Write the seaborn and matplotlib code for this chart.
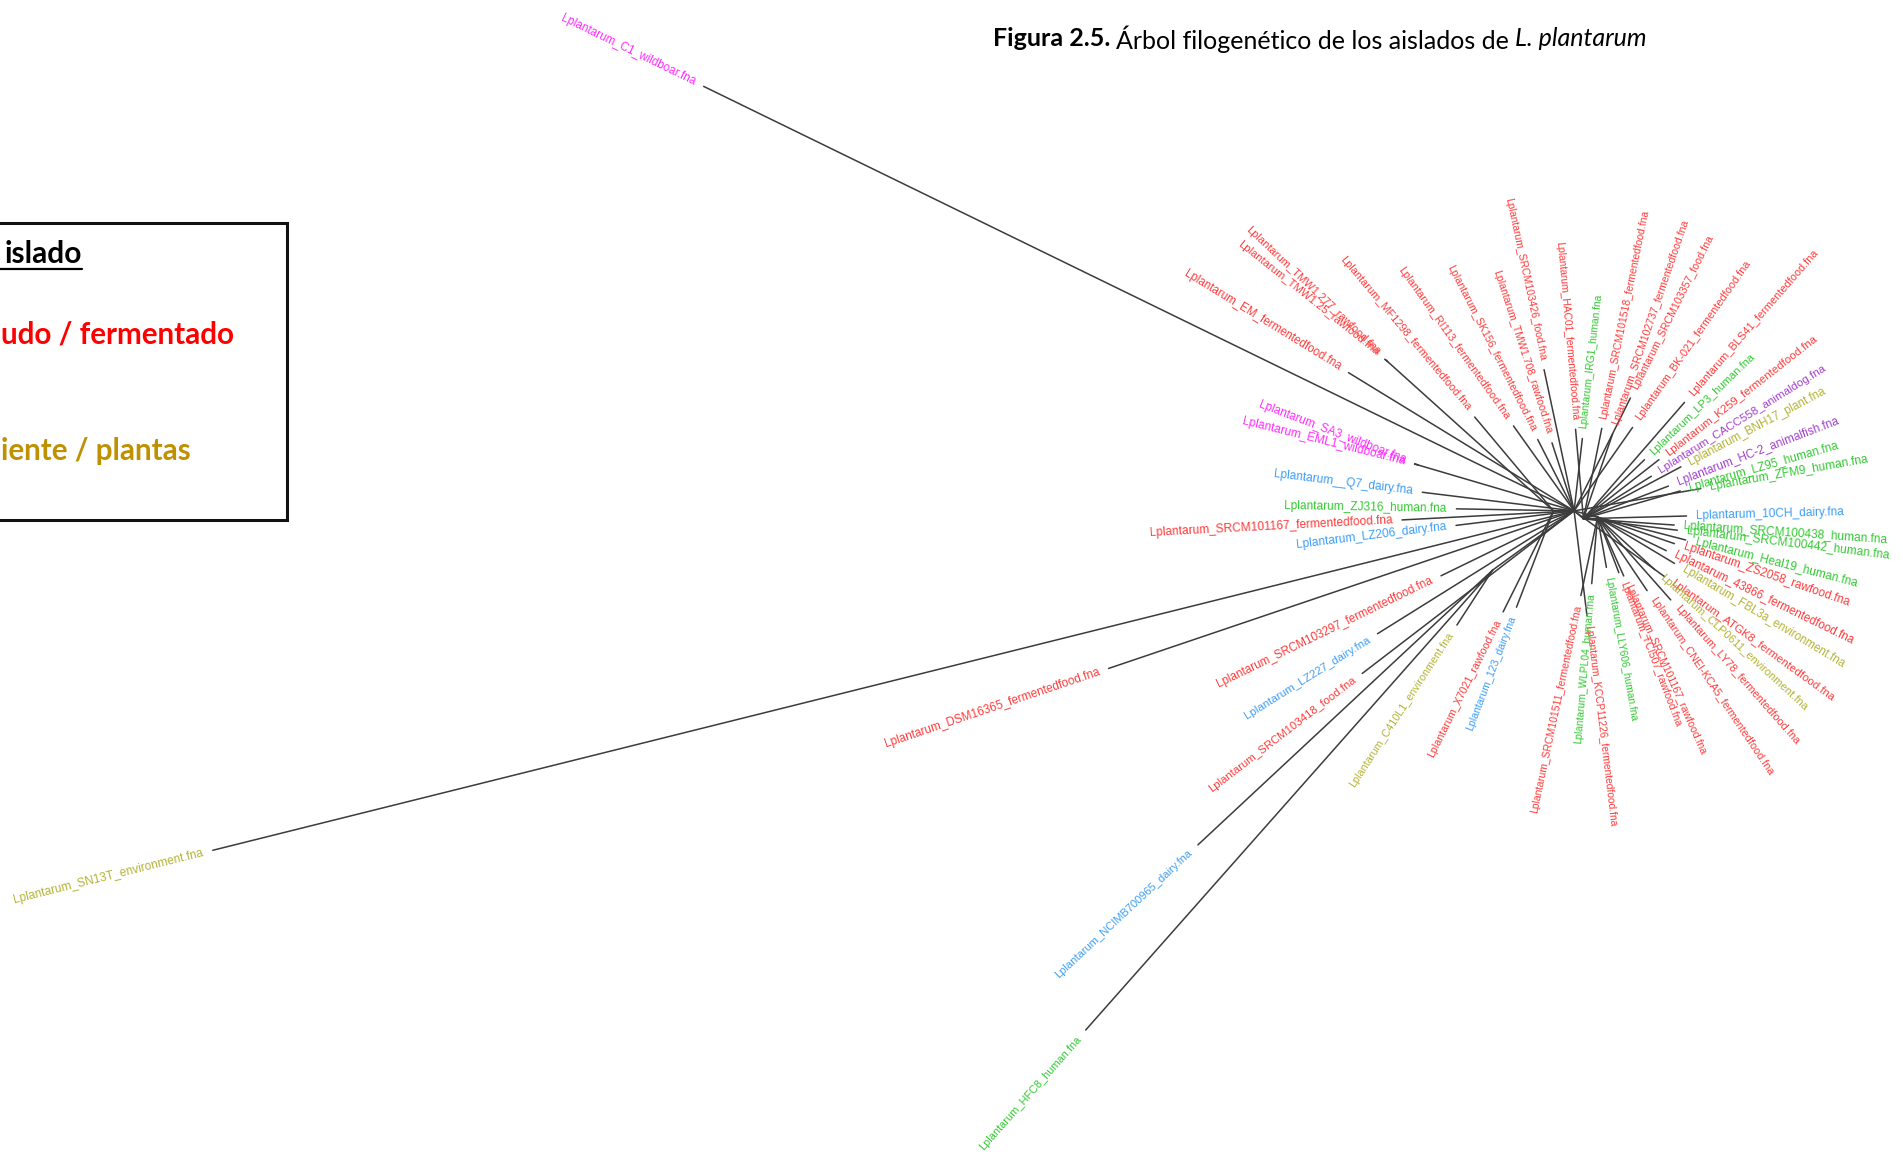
import numpy as np
import pandas as pd
import seaborn as sns
import matplotlib.pyplot as plt
from matplotlib.patches import Rectangle

sns.set_theme(style='white')
plt.rcParams['font.family'] = ['Liberation Sans', 'DejaVu Sans']

# ---- tree data (unrooted layout, angles in degrees, lengths in page units) ----
# internal nodes: node 0 is the centre of the tree
node_parent = [-1, 0, 0, 0, 0, 3, 0]
node_angle = [0, -15, -40, 180, 163.6, 138, 216]
node_len = [0, 20, 10, 17, 134, 184, 83]

tip_labels = [
    'Lplantarum_C1_wildboar.fna', 'Lplantarum_EM_fermentedfood.fna',
    'Lplantarum_TMW1.277_rawfood.fna', 'Lplantarum_TMW1.25_rawfood.fna',
    'Lplantarum_MF1298_fermentedfood.fna', 'Lplantarum_RI113_fermentedfood.fna',
    'Lplantarum_SK156_fermentedfood.fna', 'Lplantarum_TMW1.708_rawfood.fna',
    'Lplantarum_SRCM103426_food.fna', 'Lplantarum_HAC01_fermentedfood.fna',
    'Lplantarum_IRG1_human.fna', 'Lplantarum_SRCM101518_fermentedfood.fna',
    'Lplantarum_SRCM102737_fermentedfood.fna', 'Lplantarum_SRCM103357_food.fna',
    'Lplantarum_BK-021_fermentedfood.fna', 'Lplantarum_BLS41_fermentedfood.fna',
    'Lplantarum_LP3_human.fna', 'Lplantarum_K259_fermentedfood.fna',
    'Lplantarum_CACC558_animaldog.fna', 'Lplantarum_BNH17_plant.fna',
    'Lplantarum_HC-2_animalfish.fna', 'Lplantarum_LZ95_human.fna',
    'Lplantarum_ZFM9_human.fna', 'Lplantarum_10CH_dairy.fna',
    'Lplantarum_SRCM100438_human.fna', 'Lplantarum_SRCM100442_human.fna',
    'Lplantarum_Heal19_human.fna', 'Lplantarum_ZS2058_rawfood.fna',
    'Lplantarum_43866_fermentedfood.fna', 'Lplantarum_FBL3a_environment.fna',
    'Lplantarum_ATGK8_fermentedfood.fna', 'Lplantarum_CLP0611_environment.fna',
    'Lplantarum_LY78_fermentedfood.fna', 'Lplantarum_CNEI-KCA5_fermentedfood.fna',
    'Lplantarum_SRCM101167_rawfood.fna', 'Lplantarum_TCI507_rawfood.fna',
    'Lplantarum_LLY606_human.fna', 'Lplantarum_KCCP11226_fermentedfood.fna',
    'Lplantarum_WLPL04_human.fna', 'Lplantarum_SRCM101511_fermentedfood.fna',
    'Lplantarum_123_dairy.fna', 'Lplantarum_X7021_rawfood.fna',
    'Lplantarum_C410L1_environment.fna', 'Lplantarum_HFC8_human.fna',
    'Lplantarum_NCIMB700965_dairy.fna', 'Lplantarum_SRCM103418_food.fna',
    'Lplantarum_LZ227_dairy.fna', 'Lplantarum_SRCM103297_fermentedfood.fna',
    'Lplantarum_DSM16365_fermentedfood.fna', 'Lplantarum_SN13T_environment.fna',
    'Lplantarum_LZ206_dairy.fna', 'Lplantarum_SRCM101167_fermentedfood.fna',
    'Lplantarum_ZJ316_human.fna', 'Lplantarum__Q7_dairy.fna',
    'Lplantarum_SA3_wildboar.fna', 'Lplantarum_EML1_wildboar.fna',
]
tip_parent = [0, 0, 5, 5, 3, 0, 0, 0, 0, 2,
              0, 2, 2, 0, 0, 2, 2, 2, 2, 2,
              2, 2, 0, 2, 2, 2, 1, 1, 1, 1,
              0, 1, 1, 1, 1, 1, 1, 0, 1, 1,
              3, 3, 6, 6, 6, 0, 0, 0, 0, 0,
              0, 0, 0, 0, 4, 4]
tip_angle = [154, 148.5, 136.5, 141.5, 130, 125.5, 117, 108, 102, 95,
             83.5, 78.5, 71, 63.5, 55, 49, 44, 38, 32, 28,
             21, 16, 10, 1.5, -4, -7, -14.5, -19, -26, -31,
             -36, -42.5, -48.5, -56, -66, -69, -80, -83, -95, -102,
             -111, -116.5, -123, -131.5, -137, -142.5, -148, -154, -161.3, -166,
             -173, -177, 179, 173, 159, 166]
tip_len = [798, 218, 2, 3, 101, 86, 66, 59, 119, 74,
           60, 76, 74, 104, 84, 127, 70, 79, 66, 91,
           75, 83, 106, 85, 75, 78, 75, 67, 63, 74,
           92, 64, 91, 73, 53, 49, 42, 87, 55, 66,
           85, 93, 54, 506, 332, 220, 191, 122, 405, 1156,
           98, 142, 97, 126, 3, 3]

source_colors = {
    'fermentedfood': '#ff3a3a', 'rawfood': '#ff3a3a', 'food': '#ff3a3a',
    'human': '#33c933', 'dairy': '#3d9ef5', 'wildboar': '#ff2cff',
    'animaldog': '#a23fcf', 'animalfish': '#a23fcf',
    'environment': '#b3b336', 'plant': '#b3b336',
}

hub_x, hub_y = 1297, 421
gap = 8
squash = 0.86   # the original tree picture is flattened vertically

# node positions
nx, ny = [hub_x], [hub_y]
for i in range(1, len(node_parent)):
    p = node_parent[i]
    a = np.radians(node_angle[i])
    nx.append(nx[p] + node_len[i] * np.cos(a))
    ny.append(ny[p] - node_len[i] * np.sin(a))

rows = []
seg = 0
for i in range(1, len(node_parent)):
    p = node_parent[i]
    rows += [(seg, nx[p], ny[p]), (seg, nx[i], ny[i])]
    seg += 1
tips_xy = []
for p, a, L in zip(tip_parent, tip_angle, tip_len):
    r = np.radians(a)
    tx, ty = nx[p] + L * np.cos(r), ny[p] - L * np.sin(r)
    tips_xy.append((tx, ty))
    rows += [(seg, nx[p], ny[p]), (seg, tx, ty)]
    seg += 1
edges = pd.DataFrame(rows, columns=['edge', 'x', 'y'])

fig = plt.figure(figsize=(19.03, 11.65), dpi=100)
ax = fig.add_axes([0, 0, 1, 1])
sns.lineplot(data=edges, x='x', y='y', units='edge', estimator=None, sort=False,
             color='#3c3c3c', lw=1.1, ax=ax, legend=False)
ax.set_xlim(0, 1568)
ax.set_ylim(960, 0)
ax.axis('off')

for lab, (tx, ty), a in zip(tip_labels, tips_xy, tip_angle):
    r = np.radians(a)
    lx, ly = tx + gap * np.cos(r), ty - gap * np.sin(r)
    an = (a + 180) % 360 - 180
    if -90 <= an <= 90:
        ha, rot = 'left', an
    else:
        ha, rot = 'right', an - 180 if an > 0 else an + 180
    fs = 8.6 * np.sqrt(np.cos(r) ** 2 + (squash * np.sin(r)) ** 2)
    src = lab.split('_')[-1].replace('.fna', '')
    ax.text(lx, ly, lab, color=source_colors[src], fontsize=fs, ha=ha, va='center',
            rotation=rot, rotation_mode='anchor')

# legend box (cut by the left border of the page)
ax.add_patch(Rectangle((-60, 183.5), 296.5, 245, fill=False, ec='#111111', lw=2.2))
lfont = ['Lato', 'DejaVu Sans']
ax.text(67.5, 209, 'islado', ha='right', va='center', fontsize=21.5, fontweight='bold',
        color='black', family=lfont)
ax.plot([0, 67.5], [221.5, 221.5], color='black', lw=1.6)
ax.text(1, 276, 'udo / fermentado', ha='left', va='center', fontsize=21.3,
        fontweight='bold', color='#ff0000', family=lfont)
ax.text(1, 372, 'iente / plantas', ha='left', va='center', fontsize=21.3,
        fontweight='bold', color='#bf9000', family=lfont)

# title in three pieces
renderer = fig.canvas.get_renderer()
x0 = 818
pieces = [('Figura 2.5.', 'bold', 'normal'),
          ('Árbol filogenético de los aislados de', 'normal', 'normal'),
          ('L. plantarum', 'normal', 'italic')]
for txt, w, st in pieces:
    t = ax.text(x0, 32, txt, ha='left', va='center', fontsize=18, fontweight=w,
                fontstyle=st, color='black', family=lfont)
    bb = t.get_window_extent(renderer=renderer)
    x0 = ax.transData.inverted().transform((bb.x1, bb.y0))[0] + 5

fig.savefig('out.png', dpi=100)
